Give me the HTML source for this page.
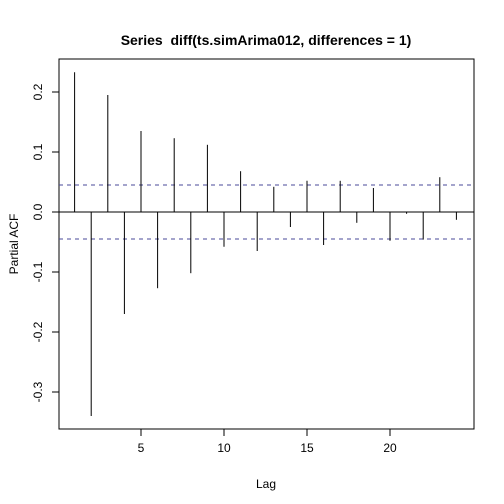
<!DOCTYPE html>
<html><head><meta charset="utf-8"><style>
html,body{margin:0;padding:0;background:#fff;}
svg{display:block;font-family:"Liberation Sans",Arial,sans-serif;}
</style></head><body>
<svg id="chart" width="504" height="504" viewBox="0 0 504 504" xmlns="http://www.w3.org/2000/svg">
<rect width="504" height="504" fill="#fff"/>
<text x="266" y="45" text-anchor="middle" font-size="14" font-weight="bold" style="white-space:pre" xml:space="preserve">Series  diff(ts.simArima012, differences = 1)</text>
<rect x="59" y="59" width="415" height="370" fill="none" stroke="#000" stroke-width="1"/>
<text x="266" y="488" text-anchor="middle" font-size="12">Lag</text>
<text transform="translate(18,244) rotate(-90)" text-anchor="middle" font-size="12">Partial ACF</text>
<g id="marks"></g>
</svg>
<script>
const lags=[1,2,3,4,5,6,7,8,9,10,11,12,13,14,15,16,17,18,19,20,21,22,23,24];
const pacfValues=[0.233,-0.34,0.195,-0.17,0.135,-0.127,0.123,-0.102,0.112,-0.058,0.068,-0.065,0.042,-0.025,0.052,-0.055,0.052,-0.018,0.04,-0.048,-0.003,-0.046,0.058,-0.013];
const xTicks=[5,10,15,20];
const yTicks=[-0.3,-0.2,-0.1,0.0,0.1,0.2];
const yTickLabels=["-0.3","-0.2","-0.1","0.0","0.1","0.2"];
const ciBound=0.045;

const NS="http://www.w3.org/2000/svg";
const svg=document.getElementById('chart');
const x=v=>141+(v-5)*16.6;
const y=v=>212-v*600;
function mk(tag,attrs){const e=document.createElementNS(NS,tag);for(const k in attrs)e.setAttribute(k,attrs[k]);svg.appendChild(e);return e;}

let z=mk('line',{x1:59,x2:474,y1:y(0),y2:y(0),stroke:'#000','stroke-width':1});



[ciBound,-ciBound].forEach((c,i)=>{
  const l=mk('line',{x1:59,x2:474,y1:y(c),y2:y(c),stroke:'#4a4a9a','stroke-width':1,'stroke-dasharray':'4,4'});
  
  
});

lags.forEach((g,i)=>{
  const b=mk('line',{x1:x(g),x2:x(g),y1:y(0),y2:y(pacfValues[i]),stroke:'#000','stroke-width':1});
  
  
});

xTicks.forEach(t=>{
  const l=mk('line',{x1:x(t),x2:x(t),y1:429,y2:436,stroke:'#000'});
  
  
  const tx=mk('text',{x:x(t),y:452,'text-anchor':'middle','font-size':12});
  tx.textContent=t;
  
  
});

yTicks.forEach((t,i)=>{
  const l=mk('line',{x1:52,x2:59,y1:y(t),y2:y(t),stroke:'#000'});
  
  
  const tx=mk('text',{transform:`translate(42,${y(t)}) rotate(-90)`,'text-anchor':'middle','font-size':12});
  tx.textContent=yTickLabels[i];
  
  
});
</script>
</body></html>
